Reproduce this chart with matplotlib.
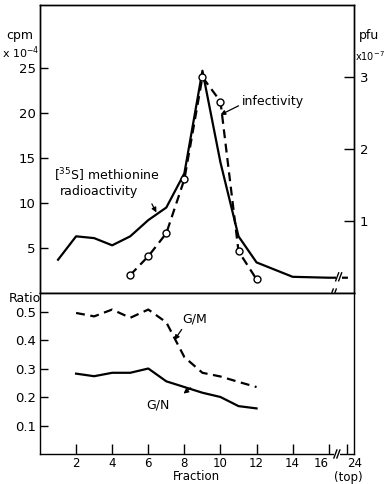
import matplotlib
matplotlib.use("Agg")
import matplotlib.pyplot as plt

plt.rcParams['font.family'] = ['DejaVu Sans']

# ---- data ----
frac_cpm = [1, 2, 3, 4, 5, 6, 7, 8, 9, 10, 11, 12, 14, 16, 24]
cpm = [3.7, 6.3, 6.1, 5.3, 6.3, 8.1, 9.5, 13.3, 24.7, 14.5, 6.3, 3.4, 1.8, 1.7, 1.7]

frac_pfu = [5, 6, 7, 8, 9, 10, 11, 12]
pfu = [0.25, 0.51, 0.83, 1.58, 3.0, 2.66, 0.58, 0.19]

frac_ratio = [2, 3, 4, 5, 6, 7, 8, 9, 10, 11, 12]
g_m = [0.495, 0.483, 0.507, 0.478, 0.507, 0.462, 0.34, 0.285, 0.272, 0.253, 0.235]
g_n = [0.282, 0.273, 0.285, 0.285, 0.300, 0.255, 0.235, 0.215, 0.200, 0.168, 0.160]

x_ticks = [2, 4, 6, 8, 10, 12, 14, 16, 24]
cpm_ticks = [5, 10, 15, 20, 25]
pfu_ticks = [1, 2, 3]
ratio_ticks = [0.1, 0.2, 0.3, 0.4, 0.5]


def pos(f):
    # broken axis: fractions beyond 16 are compressed (24 sits at 17)
    return f if f <= 16 else 16 + (f - 16) / 8.0


XMAX = 17.4
fig = plt.figure(figsize=(3.88, 4.84), dpi=100)
ax1 = fig.add_axes([0.1031, 0.3946, 0.8093, 0.5950])
ax2 = fig.add_axes([0.1031, 0.0620, 0.8093, 0.3326])
ax1r = ax1.twinx()

lw = 1.6
fs = 9.5

# upper panel
ax1.plot([pos(f) for f in frac_cpm], cpm, color='black', lw=lw, zorder=3)
ax1.set_xlim(0, XMAX)
ax1.set_ylim(0, 32)
ax1.set_xticks([])
ax1.set_yticks(cpm_ticks)
ax1.set_yticklabels([str(v) for v in cpm_ticks], fontsize=fs)
ax1.tick_params(axis='y', direction='in', length=6, width=1, pad=3)

ax1r.plot([pos(f) for f in frac_pfu], pfu, color='black', lw=lw, ls=(0, (4, 2.5)),
          marker='o', ms=5, mfc='white', mec='black', mew=1, zorder=4)
ax1r.set_ylim(0, 4)
ax1r.set_xlim(0, XMAX)
ax1r.set_yticks(pfu_ticks)
ax1r.set_yticklabels([str(v) for v in pfu_ticks], fontsize=fs)
ax1r.tick_params(axis='y', direction='in', length=7, width=1, pad=4)

# lower panel
ax2.plot(frac_ratio, g_m, color='black', lw=lw, ls=(0, (4, 2.5)))
ax2.plot(frac_ratio, g_n, color='black', lw=lw)
ax2.set_xlim(0, XMAX)
ax2.set_ylim(0, 0.565)
ax2.set_yticks(ratio_ticks)
ax2.set_yticklabels(['0.1', '0.2', '0.3', '0.4', '0.5'], fontsize=fs)
ax2.set_xticks([pos(f) for f in x_ticks])
ax2.set_xticklabels([str(f) for f in x_ticks], fontsize=8.5)
ax2.tick_params(axis='y', direction='in', length=6, width=1, pad=3)
ax2.tick_params(axis='x', direction='in', length=7, width=1, pad=2)
ax2.tick_params(right=False)
xt = ax2.get_xticklabels()
xt[-2].set_ha('right')
xt[-1].set_ha('left')

for a in (ax1, ax1r, ax2):
    for s in a.spines.values():
        s.set_linewidth(1.0)

# break marks
def brk(ax, x, y, pxx, pxy):
    ax.plot([x - 3 * pxx, x + 3 * pxx], [y, y], color='white', lw=3, zorder=5,
            clip_on=False, solid_capstyle='butt')
    for dx in (-1.5, 1.5):
        ax.plot([x + (dx - 1.5) * pxx, x + (dx + 1.5) * pxx],
                [y - 4 * pxy, y + 4 * pxy], color='black', lw=1, zorder=6, clip_on=False)

px1 = XMAX / 314.0
brk(ax1, 16.55, 1.8, px1, 32 / 288.0)
brk(ax1, 16.25, 0.0, px1, 32 / 288.0)
brk(ax2, 16.45, 0.0, px1, 0.565 / 161.0)

# texts
fig.text(20 / 388, 1 - 36 / 484, 'cpm', ha='center', va='center', fontsize=9)
fig.text(21 / 388, 1 - 53 / 484, r'x 10$^{-4}$', ha='center', va='center', fontsize=8)
fig.text(369 / 388, 1 - 35 / 484, 'pfu', ha='center', va='center', fontsize=9)
fig.text(385 / 388, 1 - 56 / 484, r'x10$^{-7}$', ha='right', va='center', fontsize=7)
fig.text(25 / 388, 1 - 298 / 484, 'Ratio', ha='center', va='center', fontsize=9)
fig.text(196 / 388, 1 - 477 / 484, 'Fraction', ha='center', va='center', fontsize=8.5)
fig.text(348 / 388, 1 - 477 / 484, '(top)', ha='center', va='center', fontsize=8.5)

ax1.text(0.8, 13.1, r'[$^{35}$S] methionine', fontsize=9, ha='left', va='center')
ax1.text(1.1, 11.3, 'radioactivity', fontsize=9, ha='left', va='center')
ax1.text(11.2, 21.3, 'infectivity', fontsize=9, ha='left', va='center')
ax2.text(7.9, 0.475, 'G/M', fontsize=9, ha='left', va='center')
ax2.text(5.9, 0.172, 'G/N', fontsize=9, ha='left', va='center')

ap = dict(arrowstyle='-|>', color='black', lw=0.9, mutation_scale=7, shrinkA=0, shrinkB=0)
ax1.annotate('', xy=(10.0, 19.8), xytext=(11.0, 20.8), arrowprops=ap)
ax1.annotate('', xy=(6.45, 8.95), xytext=(6.2, 9.9), arrowprops=ap)
ax2.annotate('', xy=(7.45, 0.400), xytext=(7.85, 0.437), arrowprops=ap)
ax2.annotate('', xy=(7.95, 0.212), xytext=(8.35, 0.232), arrowprops=ap)

fig.savefig('out.png', dpi=100)
